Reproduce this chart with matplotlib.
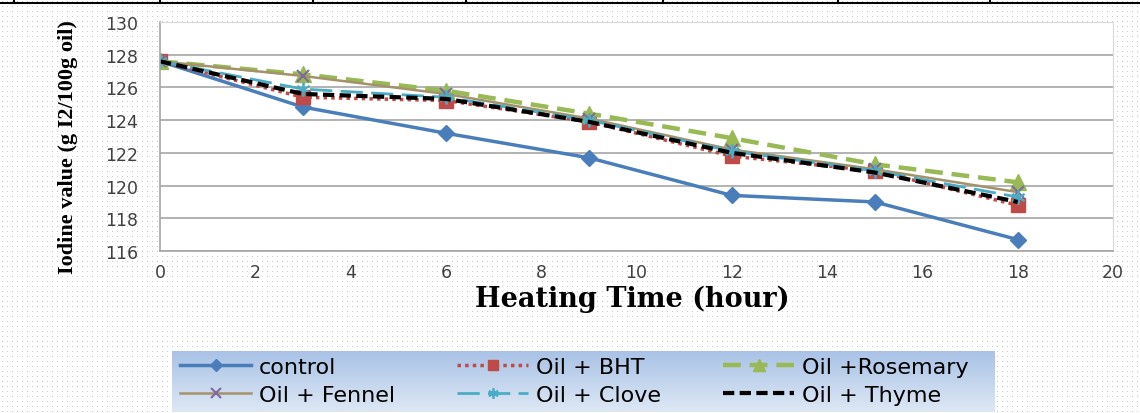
import numpy as np
import matplotlib.pyplot as plt

# iodine value of oil vs heating time
hours = [0, 3, 6, 9, 12, 15, 18]
control = [127.6, 124.8, 123.2, 121.7, 119.4, 119.0, 116.7]
oil_bht = [127.6, 125.4, 125.2, 123.9, 121.8, 120.9, 118.8]
oil_rosemary = [127.6, 126.8, 125.8, 124.4, 122.9, 121.3, 120.2]
oil_fennel = [127.6, 126.7, 125.6, 124.1, 122.2, 121.0, 119.6]
oil_clove = [127.6, 125.9, 125.4, 124.0, 122.1, 120.9, 119.3]
oil_thyme = [127.6, 125.6, 125.3, 123.9, 122.0, 120.8, 119.0]

labels = ["control", "Oil + BHT", "Oil +Rosemary",
          "Oil + Fennel", "Oil + Clove", "Oil + Thyme"]

W, H = 1140, 414
fig = plt.figure(figsize=(W / 100, H / 100), dpi=100)

# dotted page background
bg = fig.add_axes([0, 0, 1, 1], zorder=-10)
dots = np.ones((H, W, 3))
dots[2::5, 2::5] = [0.78, 0.79, 0.82]
bg.imshow(dots, aspect="auto", interpolation="nearest")
bg.set_axis_off()

# remains of the table border above the chart
fig.add_artist(plt.Line2D([0, 1], [0.990, 0.990], color="black", lw=1.5,
                          transform=fig.transFigure))
for px in [14, 160, 313, 466, 663, 838, 990]:
    fig.add_artist(plt.Line2D([px / W, px / W], [0.990, 1.0],
                              color="black", lw=1.5, transform=fig.transFigure))

ax = fig.add_axes([160 / W, 162 / H, 953 / W, 229 / H])
ax.set_facecolor("white")
ax.set_zorder(2)

ax.plot(hours, control, color="#4a7ebb", lw=2.5, marker="D", ms=8,
        label=labels[0])
ax.plot(hours, oil_bht, color="#be4b48", lw=2.5, ls=(0, (1, 1.2)), marker="s",
        ms=10, label=labels[1])
ax.plot(hours, oil_rosemary, color="#98b954", lw=3.2, ls=(0, (4, 2)),
        marker="^", ms=11, label=labels[2])
ax.plot(hours, oil_fennel, color="#a3926a", lw=1.8, marker="x", ms=9,
        mec="#7e6a9c", mew=1.5, label=labels[3])
ax.plot(hours, oil_clove, color="#4bacc6", lw=2, ls=(0, (8, 3)),
        marker=(6, 2, 0), ms=10, mew=1.3, label=labels[4])
ax.plot(hours, oil_thyme, color="black", lw=3, ls=(0, (2.7, 1.3)),
        label=labels[5])

ax.set_xlim(0, 20)
ax.set_ylim(116, 130)
ax.set_xticks(np.arange(0, 21, 2))
ax.set_yticks(np.arange(116, 131, 2))
ax.grid(axis="y", color="#a6a6a6", lw=1.2)
ax.set_axisbelow(True)
ax.tick_params(length=0, labelsize=12.5, labelcolor="#404040")
ax.tick_params(axis="y", pad=16)
ax.tick_params(axis="x", pad=9)
for side in ["top", "right"]:
    ax.spines[side].set_color("#d9d9d9")
for side in ["left", "bottom"]:
    ax.spines[side].set_color("#a6a6a6")
    ax.spines[side].set_linewidth(1.2)

fig.text(632 / W, 1 - 299 / H, "Heating Time (hour)", ha="center",
         va="center", fontsize=19.5, fontweight="bold", family="DejaVu Serif")
fig.text(68 / W, 1 - 147 / H, "Iodine value (g I2/100g oil)", ha="center",
         va="center", rotation=90, fontsize=16, fontweight="bold",
         family="Liberation Serif")

# legend box with light blue gradient
lax = fig.add_axes([172 / W, 1 / H, 823 / W, 61 / H])
grad = np.linspace(0, 1, 100).reshape(-1, 1)
top = np.array([0.66, 0.76, 0.90])
bot = np.array([0.87, 0.91, 0.96])
img = top + (bot - top) * grad[:, :, None]
lax.imshow(img, aspect="auto", extent=[0, 1, 0, 1])
lax.set_axis_off()

handles, _ = ax.get_legend_handles_labels()
order = [0, 3, 1, 4, 2, 5]
fig.legend([handles[i] for i in order], [labels[i] for i in order], ncol=3,
           loc="center left", bbox_to_anchor=(180 / W, 1 - 382 / H),
           frameon=False, prop={"family": "DejaVu Sans", "size": 16},
           borderpad=0, borderaxespad=0,
           handlelength=3.2, columnspacing=2.8, handletextpad=0.35,
           labelspacing=0.35, markerscale=0.75)

fig.savefig("out.png", dpi=100)
